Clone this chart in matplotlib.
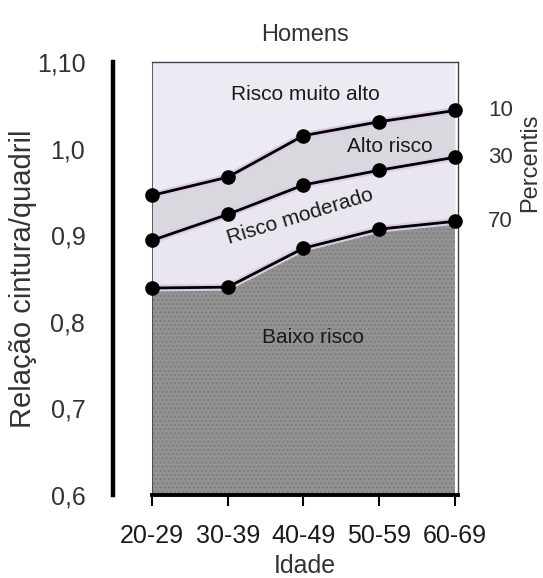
import matplotlib
matplotlib.use("Agg")
import matplotlib.pyplot as plt
import matplotlib.patheffects as pe

plt.rcParams['font.family'] = ['Liberation Sans', 'DejaVu Sans']

# ---- data ----
age_groups = ["20-29", "30-39", "40-49", "50-59", "60-69"]
p10 = [0.946, 0.967, 1.015, 1.031, 1.044]
p30 = [0.894, 0.924, 0.958, 0.975, 0.990]
p70 = [0.839, 0.840, 0.885, 0.907, 0.916]
percentile_labels = ["10", "30", "70"]
ytick_vals = [0.6, 0.7, 0.8, 0.9, 1.0, 1.1]
ytick_labels = ["0,6", "0,7", "0,8", "0,9", "1,0", "1,10"]
region_labels = ["Risco muito alto", "Alto risco", "Risco moderado", "Baixo risco"]

W, H = 543, 578
fig = plt.figure(figsize=(W / 100, H / 100), dpi=100)
ax = fig.add_axes([152 / W, 1 - 495 / H, (458 - 152) / W, (495 - 62) / H])

x = list(range(len(age_groups)))
ymin, ymax = 0.6, 1.1
ax.set_xlim(-0.0, 4.04)
ax.set_ylim(ymin, ymax)

# fills
ax.fill_between(x, p10, ymax, color="#ecebf3", lw=0, zorder=1)
ax.fill_between(x, p30, p10, color="#d9d8de", lw=0, zorder=1)
ax.fill_between(x, p70, p30, color="#e9e6ef", lw=0, zorder=1)
ax.fill_between(x, ymin, p70, facecolor="#939393", edgecolor="#7e7e7e",
                hatch="....", lw=0, zorder=1)

halo = [pe.Stroke(linewidth=5, foreground="#dccbe6"), pe.Normal()]
for series in (p10, p30, p70):
    ax.plot(x, series, color="black", lw=2.0, zorder=3, path_effects=halo)
    ax.plot(x, series, color="black", lw=0, marker="o", markersize=9.5,
            zorder=4, clip_on=False)

# frame
for s in ("top", "right"):
    ax.spines[s].set_color("#3a4050")
    ax.spines[s].set_linewidth(1.0)
ax.axvline(0, color="#3a4050", lw=1.2, zorder=2)
ax.spines["bottom"].set_linewidth(2.8)
ax.spines["bottom"].set_color("black")
ax.spines["left"].set_position(("outward", 28))
ax.spines["left"].set_linewidth(3.2)
ax.spines["left"].set_color("black")
ax.spines["left"].set_bounds(ymin, ymax)

ax.set_xticks(x)
ax.set_xticklabels(age_groups, fontsize=18, color="#1a1a1a")
ax.tick_params(axis="x", direction="out", length=8, width=1.5, pad=13)
ax.set_yticks(ytick_vals)
ax.set_yticklabels(ytick_labels, fontsize=18, color="#333333")
ax.tick_params(axis="y", length=0, pad=20)

ax.set_xlabel("Idade", fontsize=18, color="#333333", labelpad=4)
fig.text(23 / W, 1 - 279 / H, "Relação cintura/quadril", rotation=90,
         fontsize=21, color="#333333", ha="center", va="center")
fig.text(305 / W, 1 - 35 / H, "Homens", fontsize=17, color="#333333",
         ha="center", va="center")

# percentile labels on right
for lab, series in zip(percentile_labels, (p10, p30, p70)):
    ax.annotate(lab, xy=(x[-1], series[-1]), xytext=(24, 0),
                textcoords="offset points", fontsize=16, color="#333333",
                ha="left", va="center")
fig.text(530 / W, 1 - 163 / H, "Percentis", rotation=90, fontsize=17,
         color="#333333", ha="center", va="center")

# region labels
ax.text(2.02, 1.062, region_labels[0], fontsize=15, color="#1a1a1a",
        ha="center", va="center", zorder=5)
ax.text(3.14, 1.003, region_labels[1], fontsize=15, color="#1a1a1a",
        ha="center", va="center", zorder=5)
ax.text(1.95, 0.922, region_labels[2], fontsize=15, color="#1a1a1a",
        ha="center", va="center", rotation=17, zorder=5)
ax.text(2.13, 0.782, region_labels[3], fontsize=15, color="#1a1a1a",
        ha="center", va="center", zorder=5)

fig.savefig("out.png", dpi=100)
